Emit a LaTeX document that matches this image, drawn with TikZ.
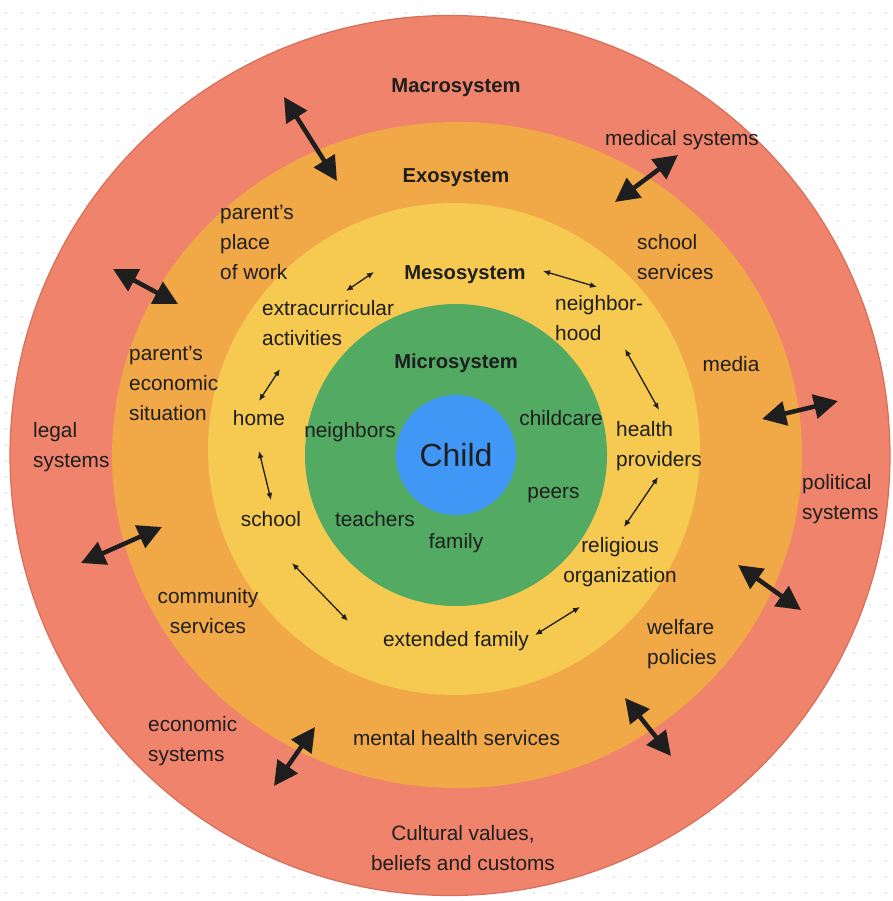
\documentclass[tikz,border=0pt]{standalone}
\usepackage{fontspec}
\setmainfont{Liberation Sans}
\usetikzlibrary{arrows.meta}

\definecolor{macrofill}{RGB}{239,131,107}
\definecolor{macroedge}{RGB}{214,112,90}
\definecolor{exofill}{RGB}{241,169,72}
\definecolor{mesofill}{RGB}{246,201,81}
\definecolor{microfill}{RGB}{82,170,99}
\definecolor{childfill}{RGB}{65,151,245}
\definecolor{ink}{RGB}{30,30,30}
\definecolor{dotgray}{RGB}{205,205,205}

\begin{document}
\begin{tikzpicture}[x=1pt,y=-1pt,
  lbl/.style={inner sep=0pt, text=ink, align=left,
    font=\fontsize{20.8}{30}\selectfont,
    execute at begin node=\strut, execute at end node=\strut},
  clbl/.style={lbl, align=center},
  ttl/.style={lbl, font=\fontsize{20.2}{30}\selectfont\bfseries},
  bigarrow/.style={draw=ink, line width=4.5pt,
    {Triangle[length=24pt,width=24pt]}-{Triangle[length=24pt,width=24pt]}},
  thinarrow/.style={draw=ink, line width=1.3pt,
    {Latex[length=7pt,width=6pt]}-{Latex[length=7pt,width=6pt]}},
  childnode/.style={circle, fill=childfill, minimum size=120pt, inner sep=0pt,
    text=ink, font=\fontsize{32}{36}\selectfont}
]
\useasboundingbox (0,0) rectangle (892,901);
\fill[white] (0,0) rectangle (892,901);

% dotted canvas
\foreach \i in {0,...,55}
  \foreach \j in {0,...,55}
    \fill[dotgray] (6+16*\i,13+16*\j) circle[radius=0.9];

% nested system rings
\filldraw[fill=macrofill, draw=macroedge, line width=1.2pt]
  (450,455.5) circle[radius=440];
\fill[exofill] (457,455) ellipse[x radius=345, y radius=333];
\fill[mesofill] (454,449) circle[radius=246];
\fill[microfill] (456,455) circle[radius=151];
\node[childnode] (child) at (456,455) {Child};

% ring titles
\node[ttl] (macro) at (456,87) {Macrosystem};
\node[ttl] (exo) at (456,177) {Exosystem};
\node[ttl] (meso) at (465,273) {Mesosystem};
\node[ttl] (micro) at (456,362) {Microsystem};

% macrosystem
\node[lbl, anchor=west] (legal) at (33,449) {legal\\systems};
\node[lbl, anchor=west] (political) at (802,501) {political\\systems};
\node[lbl, anchor=west] (economic) at (148,743) {economic\\systems};
\node[lbl] (medical) at (682,140) {medical systems};
\node[clbl] (cultural) at (463,852) {Cultural values,\\beliefs and customs};

% exosystem
\node[lbl, anchor=west] (work) at (220,246.5) {parent’s\\place\\of work};
\node[lbl, anchor=west] (schoolserv) at (637,261.5) {school\\services};
\node[lbl, anchor=west] (econsit) at (129,388) {parent’s\\economic\\situation};
\node[lbl] (media) at (731,365) {media};
\node[clbl] (community) at (208,615.5) {community\\services};
\node[lbl, anchor=west] (welfare) at (647,646) {welfare\\policies};
\node[lbl] (mental) at (456.5,739.5) {mental health services};

% mesosystem
\node[lbl, anchor=west] (extra) at (262,327.5) {extracurricular\\activities};
\node[lbl, anchor=west] (hood) at (555,322) {neighbor-\\hood};
\node[lbl] (home) at (259,419) {home};
\node[lbl, anchor=west] (health) at (616,448) {health\\providers};
\node[lbl] (school) at (271,520) {school};
\node[clbl] (religious) at (620,564) {religious\\organization};
\node[lbl] (extended) at (456,640) {extended family};

% microsystem
\node[lbl] (neighbors) at (350,431) {neighbors};
\node[lbl] (childcare) at (561,419) {childcare};
\node[lbl] (peers) at (553.5,492) {peers};
\node[lbl] (teachers) at (375,520) {teachers};
\node[lbl] (family) at (456,542) {family};

% end points of the exchange arrows
\coordinate (t1a) at (284,97);   \coordinate (t1b) at (337,181);
\coordinate (t2a) at (678,155);  \coordinate (t2b) at (615,202);
\coordinate (t3a) at (113,269);  \coordinate (t3b) at (178,304);
\coordinate (t4a) at (762,419);  \coordinate (t4b) at (838,401);
\coordinate (t5a) at (81,563);   \coordinate (t5b) at (162,527);
\coordinate (t6a) at (738,565);  \coordinate (t6b) at (801,610);
\coordinate (t7a) at (274,786);  \coordinate (t7b) at (315,727);
\coordinate (t8a) at (625,698);  \coordinate (t8b) at (671,756);

\coordinate (s1a) at (346,291);  \coordinate (s1b) at (374,272);
\coordinate (s2a) at (543,271);  \coordinate (s2b) at (597,287);
\coordinate (s3a) at (280,369);  \coordinate (s3b) at (259,401);
\coordinate (s4a) at (625,349);  \coordinate (s4b) at (659,410);
\coordinate (s5a) at (259,451);  \coordinate (s5b) at (271,500);
\coordinate (s6a) at (658,477);  \coordinate (s6b) at (624,527);
\coordinate (s7a) at (292,563);  \coordinate (s7b) at (348,621);
\coordinate (s8a) at (535,635);  \coordinate (s8b) at (580,607);

% exo <-> macro
\foreach \k in {1,...,8}
  \draw[bigarrow] (t\k a) -- (t\k b);

% links inside the mesosystem
\foreach \k in {1,...,8}
  \draw[thinarrow] (s\k a) -- (s\k b);
\end{tikzpicture}
\end{document}
